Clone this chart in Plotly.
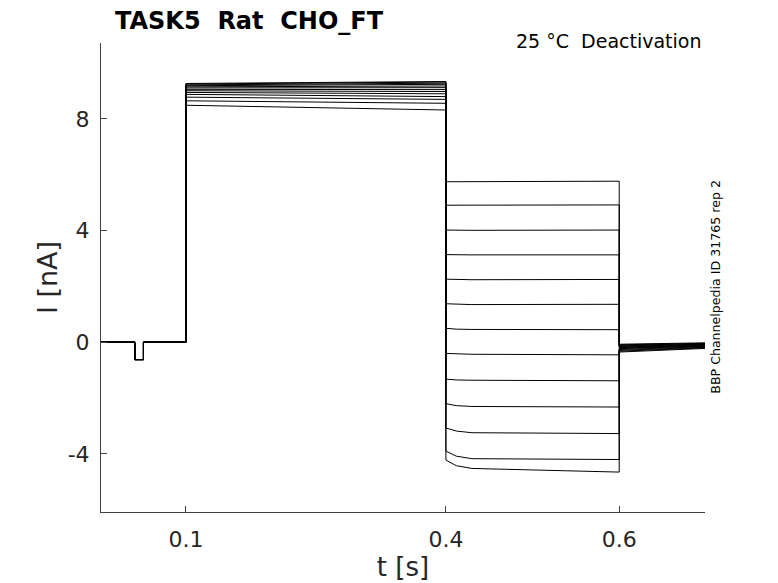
import plotly.graph_objects as go

# time breakpoints of the protocol [s]
t_begin = 0.002
dip_on, dip_off = 0.041, 0.051
step_on, step_off = 0.1, 0.4
tail_early_t, tail_settle_t = 0.412, 0.43
tail_off, t_end = 0.6, 0.699

baseline = 0.0
dip_level = -0.62

# per-sweep current levels [nA]
step_start = [9.27, 9.25, 9.22, 9.19, 9.15, 9.11, 9.06, 9.01, 8.95, 8.88, 8.78, 8.65, 8.49]
step_end = [9.34, 9.32, 9.28, 9.24, 9.18, 9.12, 9.05, 8.98, 8.90, 8.80, 8.70, 8.56, 8.32]
tail_start = [5.75, 4.91, 4.02, 3.14, 2.26, 1.38, 0.50, -0.40, -1.32, -2.20, -3.07, -3.90, -4.22]
tail_early = [5.75, 4.91, 4.01, 3.13, 2.25, 1.36, 0.47, -0.42, -1.35, -2.27, -3.18, -4.08, -4.42]
tail_settle = [5.75, 4.91, 4.01, 3.13, 2.24, 1.35, 0.46, -0.43, -1.36, -2.30, -3.24, -4.17, -4.52]
tail_end = [5.77, 4.92, 4.02, 3.13, 2.25, 1.36, 0.45, -0.45, -1.38, -2.32, -3.27, -4.20, -4.65]
post_start = [-0.07, -0.09, -0.11, -0.13, -0.15, -0.17, -0.19, -0.21, -0.23, -0.26, -0.29, -0.32, -0.35]
post_end = [-0.02, -0.04, -0.05, -0.07, -0.08, -0.10, -0.11, -0.13, -0.14, -0.16, -0.18, -0.20, -0.22]

x_ticks = [0.1, 0.4, 0.6]
x_ticklabels = ["0.1", "0.4", "0.6"]
y_ticks = [-4, 0, 4, 8]
y_ticklabels = ["-4", "0", "4", "8"]

fig = go.Figure()
for i in range(len(step_start)):
    xs = [t_begin, dip_on, dip_on, dip_off, dip_off, step_on, step_on, step_off,
          step_off, tail_early_t, tail_settle_t, tail_off, tail_off, t_end]
    ys = [baseline, baseline, dip_level, dip_level, baseline, baseline,
          step_start[i], step_end[i], tail_start[i], tail_early[i], tail_settle[i],
          tail_end[i], post_start[i], post_end[i]]
    fig.add_trace(go.Scatter(x=xs, y=ys, mode="lines",
                             line=dict(color="black", width=1), showlegend=False,
                             hoverinfo="skip"))

axis_color = "#404040"
text_color = "#262626"
font_family = "DejaVu Sans"
fig.update_layout(
    width=770, height=575,
    margin=dict(l=93, r=73, t=35, b=71, autoexpand=False),
    paper_bgcolor="white", plot_bgcolor="white",
    font=dict(family=font_family, color=text_color),
    xaxis=dict(range=[0.002, 0.699], tickvals=x_ticks, ticktext=x_ticklabels,
               automargin=False,
               showgrid=False, zeroline=False, showline=True, linecolor=axis_color,
               linewidth=1, ticks="inside", ticklen=6, tickcolor=axis_color,
               ticklabelstandoff=8,
               tickfont=dict(size=22, family=font_family, color=text_color),
               title=dict(text="t [s]", font=dict(size=26, family=font_family, color=text_color),
                          standoff=6)),
    yaxis=dict(range=[-6.08, 10.72], tickvals=y_ticks, ticktext=y_ticklabels,
               automargin=False,
               showgrid=False, zeroline=False, showline=True, linecolor=axis_color,
               linewidth=1, ticks="inside", ticklen=6, tickcolor=axis_color,
               ticklabelstandoff=6,
               tickfont=dict(size=22, family=font_family, color=text_color),
               title=dict(text="I [nA]", font=dict(size=27, family=font_family, color=text_color),
                          standoff=2)),
    annotations=[
        dict(text="<b>TASK5  Rat  CHO_FT</b>", xref="paper", yref="paper",
             x=0.02, y=1.047, xanchor="left", yanchor="middle", showarrow=False,
             font=dict(size=24, family=font_family, color="black")),
        dict(text="25 °C  Deactivation", xref="paper", yref="paper",
             x=0.997, y=1.004, xanchor="right", yanchor="middle", showarrow=False,
             font=dict(size=19, family=font_family, color="black")),
        dict(text="BBP Channelpedia ID 31765 rep 2", xref="paper", yref="paper",
             x=1.018, y=0.48, xanchor="center", yanchor="middle", showarrow=False,
             textangle=-90, font=dict(size=12.6, family=font_family, color="black")),
    ],
)

fig.write_html("out.html")
